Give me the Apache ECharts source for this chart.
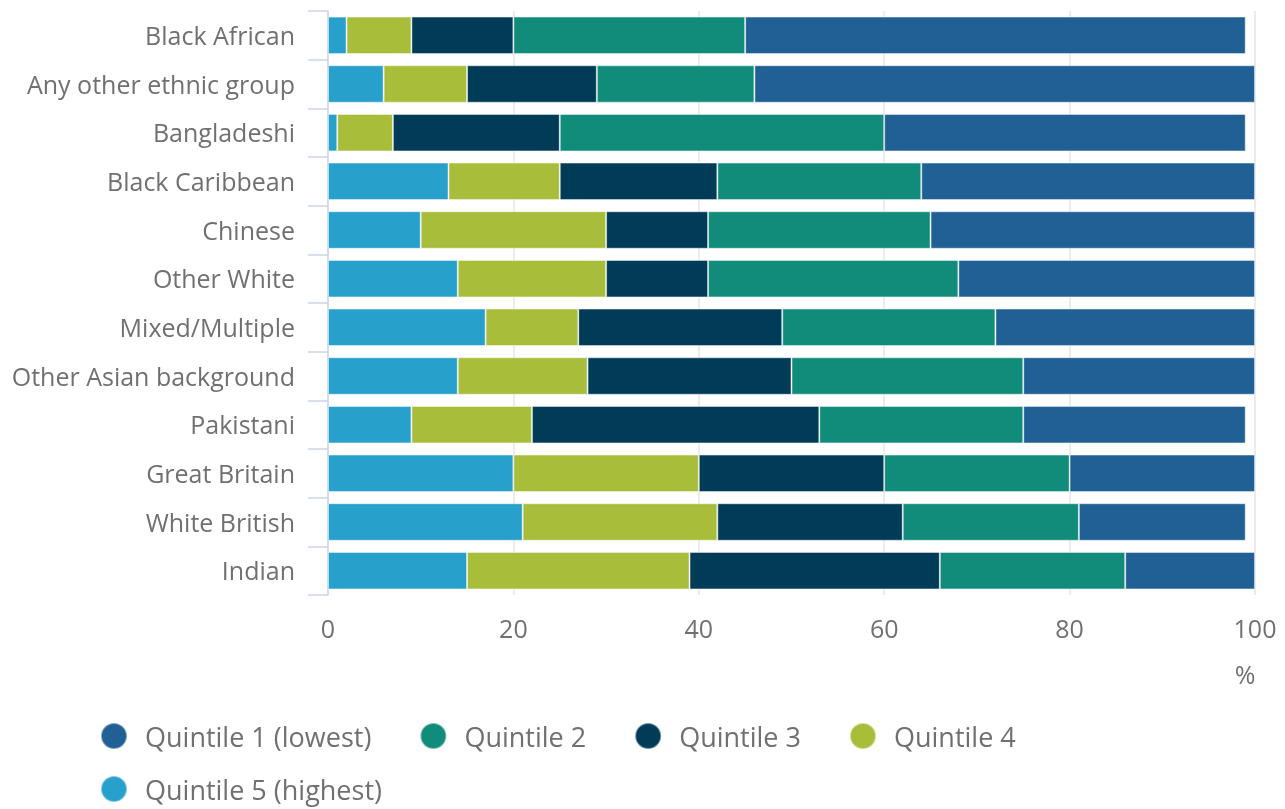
<!DOCTYPE html>
<html>
<head>
<meta charset="utf-8">
<script src="https://cdn.jsdelivr.net/npm/echarts@6/dist/echarts.min.js"></script>
<style>
  html, body { margin: 0; padding: 0; background: #ffffff; }
  #chart { width: 1285px; height: 809px; }
</style>
</head>
<body>
<div id="chart"></div>
<script>
// Ethnic groups, top to bottom
const categories = [
  'Black African', 'Any other ethnic group', 'Bangladeshi', 'Black Caribbean',
  'Chinese', 'Other White', 'Mixed/Multiple', 'Other Asian background',
  'Pakistani', 'Great Britain', 'White British', 'Indian'
];

// Share of each group in each quintile, %
const quintile5 = [2, 6, 1, 13, 10, 14, 17, 14, 9, 20, 21, 15];
const quintile4 = [7, 9, 6, 12, 20, 16, 10, 14, 13, 20, 21, 24];
const quintile3 = [11, 14, 18, 17, 11, 11, 22, 22, 31, 20, 20, 27];
const quintile2 = [25, 17, 35, 22, 24, 27, 23, 25, 22, 20, 19, 20];
const quintile1 = [54, 54, 39, 36, 35, 32, 28, 25, 24, 20, 18, 14];

const xTicks = [0, 20, 40, 60, 80, 100];

const seriesNames = {
  q1: 'Quintile 1 (lowest)',
  q2: 'Quintile 2',
  q3: 'Quintile 3',
  q4: 'Quintile 4',
  q5: 'Quintile 5 (highest)'
};

const colors = {
  q1: '#206095',
  q2: '#118c7b',
  q3: '#003c57',
  q4: '#a8bd3a',
  q5: '#27a0cc'
};

const FONT = '"Open Sans", "Noto Sans", sans-serif';
const TEXT_COLOR = '#707071';

function barSeries(name, data, color) {
  return {
    name: name,
    type: 'bar',
    stack: 'total',
    data: data,
    barCategoryGap: '23%',
    itemStyle: { color: color, borderColor: 'rgba(255,255,255,0.45)', borderWidth: 1 },
    emphasis: { disabled: true }
  };
}

const legendCommon = {
  orient: 'horizontal',
  left: 95,
  icon: 'circle',
  itemWidth: 26,
  itemHeight: 26,
  itemGap: 48,
  selectedMode: false,
  formatter: function (name) { return '{t|' + name + '}'; },
  textStyle: {
    fontFamily: FONT,
    fontSize: 27,
    color: TEXT_COLOR,
    rich: {
      t: {
        fontFamily: FONT,
        fontSize: 27,
        color: TEXT_COLOR,
        padding: [7, 0, 0, 13]
      }
    }
  }
};

const chart = echarts.init(document.getElementById('chart'), null, { renderer: 'canvas' });

chart.setOption({
  animation: false,
  backgroundColor: '#ffffff',
  title: {
    text: '%',
    left: 1240,
    top: 659,
    textAlign: 'center',
    textStyle: { fontFamily: FONT, fontSize: 25, fontWeight: 'normal', color: TEXT_COLOR }
  },
  legend: [
    Object.assign({}, legendCommon, {
      top: 717,
      data: [seriesNames.q1, seriesNames.q2, seriesNames.q3, seriesNames.q4]
    }),
    Object.assign({}, legendCommon, {
      top: 770,
      data: [seriesNames.q5]
    })
  ],
  grid: { left: 328, right: 30, top: 11, bottom: 214, containLabel: false },
  xAxis: {
    type: 'value',
    min: xTicks[0],
    max: xTicks[xTicks.length - 1],
    interval: xTicks[1] - xTicks[0],
    axisLine: { show: false },
    axisTick: { show: false },
    splitLine: { show: true, lineStyle: { color: '#e6e6e6', width: 1.5 } },
    axisLabel: {
      margin: 23,
      fontFamily: FONT,
      fontSize: 25,
      color: TEXT_COLOR
    }
  },
  yAxis: {
    type: 'category',
    data: categories,
    inverse: true,
    axisLine: { show: true, lineStyle: { color: '#ccd6eb', width: 1.5 } },
    axisTick: { show: true, length: 20, lineStyle: { color: '#ccd6eb', width: 1.5 } },
    splitLine: { show: false },
    axisLabel: {
      margin: 33,
      fontFamily: FONT,
      fontSize: 25,
      color: TEXT_COLOR,
      formatter: function (value) { return '{c|' + value + '}'; },
      rich: {
        c: {
          fontFamily: FONT,
          fontSize: 25,
          color: TEXT_COLOR,
          padding: [5, 0, 0, 0]
        }
      }
    }
  },
  series: [
    barSeries(seriesNames.q5, quintile5, colors.q5),
    barSeries(seriesNames.q4, quintile4, colors.q4),
    barSeries(seriesNames.q3, quintile3, colors.q3),
    barSeries(seriesNames.q2, quintile2, colors.q2),
    barSeries(seriesNames.q1, quintile1, colors.q1)
  ]
});
</script>
</body>
</html>
